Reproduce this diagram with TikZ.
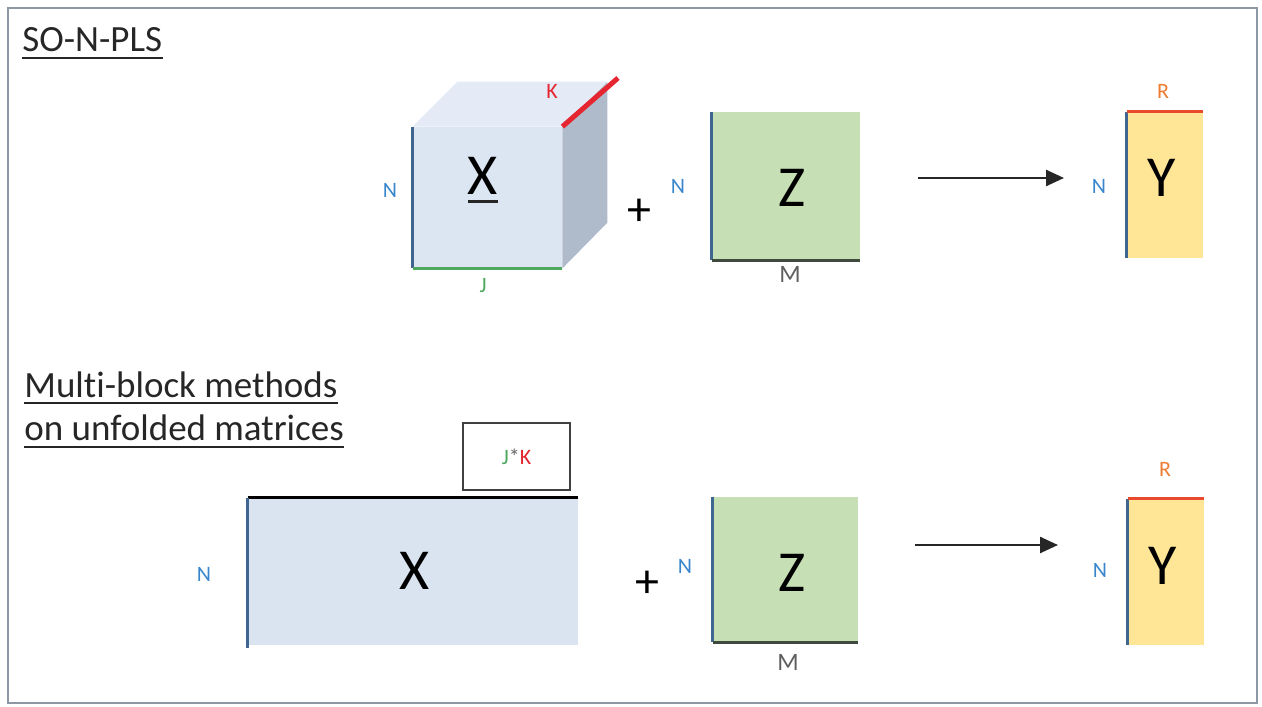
\documentclass[tikz,border=0pt]{standalone}
\usepackage{fontspec}
\setmainfont{Carlito}[Ligatures=NoCommon]
\usetikzlibrary{arrows.meta}
\definecolor{frameC}{HTML}{8E98A4}
\definecolor{cubeFront}{HTML}{DCE6F2}
\definecolor{cubeTop}{HTML}{E4EBF6}
\definecolor{cubeSide}{HTML}{AFBBCA}
\definecolor{xFill}{HTML}{DAE4F1}
\definecolor{zFill}{HTML}{C6DFB5}
\definecolor{yFill}{HTML}{FFE596}
\definecolor{nLine}{HTML}{3F6690}
\definecolor{nText}{HTML}{3A86CC}
\definecolor{jCol}{HTML}{4EA860}
\definecolor{kCol}{HTML}{E52530}
\definecolor{rCol}{HTML}{ED7D31}
\definecolor{rLine}{HTML}{E84A2E}
\definecolor{mCol}{HTML}{5E5E5E}
\definecolor{zLine}{HTML}{3E4A3E}
\begin{document}
\begin{tikzpicture}[x=0.5pt,y=-0.5pt,
  frame/.style={draw=frameC,line width=1pt},
  title/.style={anchor=base west,inner sep=0pt,font=\fontsize{18.5}{21}\selectfont,text=black!85},
  uline/.style={draw=black!85,line width=1.3pt},
  big/.style={font=\fontsize{29}{31}\selectfont,inner sep=0pt},
  dimlab/.style={font=\fontsize{11}{13}\selectfont,inner sep=0pt},
  nlab/.style={dimlab,text=nText},
  nline/.style={draw=nLine,line width=1.5pt},
  mat/.style={draw=none,inner sep=0pt},
  arr/.style={draw=black!85,line width=1.2pt,-{Triangle[length=9pt,width=8pt]}},
  plus/.style={font=\fontsize{24}{26}\selectfont,inner sep=0pt}
]
\useasboundingbox (0,0) rectangle (1262,706);
\draw[frame] (8,8) rectangle (1257,703);

% ---------- titles ----------
\node[title] (t1) at (22,52) {SO-N-PLS};
\draw[uline] ([yshift=-3pt]t1.base west) -- ([yshift=-3pt]t1.base east);
\node[title] (t2) at (24,397) {Multi-block methods};
\draw[uline] ([yshift=-3pt]t2.base west) -- ([yshift=-3pt]t2.base east);
\node[title] (t3) at (24,440) {on unfolded matrices};
\draw[uline] ([yshift=-3.5pt]t3.base west) -- ([yshift=-3.5pt]t3.base east);

% ---------- top row: cube ----------
\node[mat,fill=cubeFront,minimum width=74.5pt,minimum height=70.5pt] (X1) at (487.5,197.5) {};
\fill[cubeTop] (X1.north west) -- ++(45,-45) -- ++(149,0) -- (X1.north east) -- cycle;
\fill[cubeSide] (X1.north east) -- ++(45,-45) -- ++(0,141) -- (X1.south east) -- cycle;
\node[big] (X1lab) at (483,176) {X};
\draw[black!85,line width=1.5pt] ([yshift=-3pt]X1lab.south west) -- ([yshift=-3pt]X1lab.south east);
\draw[nline] (X1.north west) -- (X1.south west);
\draw[draw=jCol,line width=1.5pt] (X1.south west) -- (X1.south east);
\coordinate (kEnd) at (618,78);
\draw[draw=kCol,line width=2.5pt] (X1.north east) -- (kEnd);
\node[nlab] (N1) at (390,190) {N};
\node[dimlab,text=jCol] (J1) at (483,286) {J};
\node[dimlab,text=kCol] (K1) at (552,91) {K};

\node[plus] (p1) at (639,212) {+};

% Z top
\node[mat,fill=zFill,minimum width=74pt,minimum height=74pt] (Z1) at (786,186) {};
\node[big] (Z1lab) at (792,188) {Z};
\draw[nline] (Z1.north west) -- (Z1.south west);
\draw[draw=zLine,line width=1.5pt] (Z1.south west) -- (Z1.south east);
\node[nlab] (N2) at (678,186) {N};
\node[dimlab,text=mCol,font=\fontsize{12.5}{14}\selectfont] (M1) at (790,274) {M};

% arrow top
\coordinate (a1s) at (918,178);
\coordinate (a1e) at (1064,178);
\draw[arr] (a1s) -- (a1e);

% Y top
\node[mat,fill=yFill,minimum width=38pt,minimum height=73pt] (Y1) at (1165,185) {};
\node[big] (Y1lab) at (1162,178) {Y};
\draw[nline] (Y1.north west) -- (Y1.south west);
\draw[draw=rLine,line width=1.5pt] (Y1.north west) -- (Y1.north east);
\node[nlab] (N3) at (1099,186) {N};
\node[dimlab,text=rCol] (R1) at (1163,91) {R};

% ---------- bottom row ----------
\node[mat,fill=xFill,minimum width=165pt,minimum height=73.5pt] (X2) at (413,571.5) {};
\node[big] (X2lab) at (415,571) {X};
\draw[draw=black,line width=1.5pt] (X2.north west) -- (X2.north east);
\draw[nline] (X2.north west) -- ([yshift=-1.5pt]X2.south west);
\node[nlab] (N4) at (204,574) {N};
\node[draw=black!75,line width=1pt,minimum width=53.5pt,minimum height=33.5pt,inner sep=0pt,fill=white] (JK) at (516.5,456.5)
  {\fontsize{11}{13}\selectfont\textcolor{jCol}{J}\textcolor{black!60}{*}\textcolor{kCol}{K}};

\node[plus] (p2) at (647,584) {+};

% Z bottom
\node[mat,fill=zFill,minimum width=72.5pt,minimum height=72.5pt] (Z2) at (785.5,569.5) {};
\node[big] (Z2lab) at (792,573) {Z};
\draw[nline] (Z2.north west) -- (Z2.south west);
\draw[draw=zLine,line width=1.5pt] (Z2.south west) -- (Z2.south east);
\node[nlab] (N5) at (685,566) {N};
\node[dimlab,text=mCol,font=\fontsize{12.5}{14}\selectfont] (M2) at (788,662) {M};

% arrow bottom
\coordinate (a2s) at (915,545);
\coordinate (a2e) at (1058,545);
\draw[arr] (a2s) -- (a2e);

% Y bottom
\node[mat,fill=yFill,minimum width=38pt,minimum height=73pt] (Y2) at (1166,572) {};
\node[big] (Y2lab) at (1163,566) {Y};
\draw[nline] (Y2.north west) -- (Y2.south west);
\draw[draw=rLine,line width=1.5pt] (Y2.north west) -- (Y2.north east);
\node[nlab] (N6) at (1100,570) {N};
\node[dimlab,text=rCol] (R2) at (1165,469) {R};
\end{tikzpicture}
\end{document}
